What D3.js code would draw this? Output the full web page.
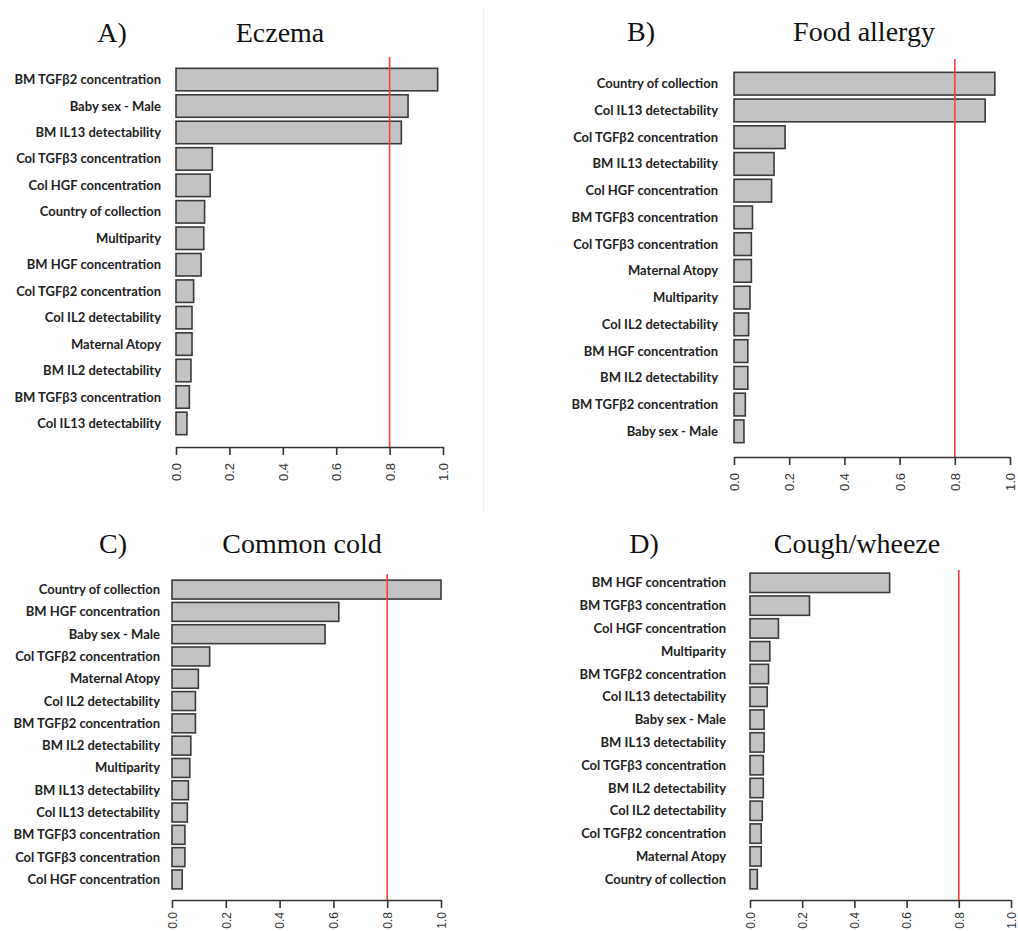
<!DOCTYPE html>
<html>
<head>
<meta charset="utf-8">
<script src="https://cdn.jsdelivr.net/npm/d3@7"></script>
<style>
  html, body { margin: 0; padding: 0; background: #fff; }
  svg { display: block; }
</style>
</head>
<body>
<svg id="chart" width="1018" height="931"></svg>
<script>
// ---------- DATA ----------
const tickValues = [0, 0.2, 0.4, 0.6, 0.8, 1.0];
const threshold = 0.8;

const eczemaLabels = ["BM TGFβ2 concentration", "Baby sex - Male", "BM IL13 detectability", "Col TGFβ3 concentration", "Col HGF concentration", "Country of collection", "Multiparity", "BM HGF concentration", "Col TGFβ2 concentration", "Col IL2 detectability", "Maternal Atopy", "BM IL2 detectability", "BM TGFβ3 concentration", "Col IL13 detectability"];
const eczemaValues = [0.98, 0.869, 0.844, 0.136, 0.128, 0.107, 0.104, 0.094, 0.066, 0.060, 0.060, 0.056, 0.050, 0.041];

const foodLabels = ["Country of collection", "Col IL13 detectability", "Col TGFβ2 concentration", "BM IL13 detectability", "Col HGF concentration", "BM TGFβ3 concentration", "Col TGFβ3 concentration", "Maternal Atopy", "Multiparity", "Col IL2 detectability", "BM HGF concentration", "BM IL2 detectability", "BM TGFβ2 concentration", "Baby sex - Male"];
const foodValues = [0.945, 0.91, 0.185, 0.145, 0.136, 0.067, 0.063, 0.063, 0.058, 0.053, 0.050, 0.050, 0.041, 0.036];

const coldLabels = ["Country of collection", "BM HGF concentration", "Baby sex - Male", "Col TGFβ2 concentration", "Maternal Atopy", "Col IL2 detectability", "BM TGFβ2 concentration", "BM IL2 detectability", "Multiparity", "BM IL13 detectability", "Col IL13 detectability", "BM TGFβ3 concentration", "Col TGFβ3 concentration", "Col HGF concentration"];
const coldValues = [1.0, 0.62, 0.569, 0.14, 0.098, 0.087, 0.087, 0.07, 0.066, 0.061, 0.057, 0.048, 0.048, 0.038];

const coughLabels = ["BM HGF concentration", "BM TGFβ3 concentration", "Col HGF concentration", "Multiparity", "BM TGFβ2 concentration", "Col IL13 detectability", "Baby sex - Male", "BM IL13 detectability", "Col TGFβ3 concentration", "BM IL2 detectability", "Col IL2 detectability", "Col TGFβ2 concentration", "Maternal Atopy", "Country of collection"];
const coughValues = [0.535, 0.228, 0.109, 0.076, 0.071, 0.066, 0.054, 0.054, 0.051, 0.051, 0.047, 0.043, 0.043, 0.028];

const panelLetters = ["A)", "B)", "C)", "D)"];
const panelTitles = ["Eczema", "Food allergy", "Common cold", "Cough/wheeze"];

// ---------- LAYOUT ----------
const layouts = [
  { x0: 176, x1: 443,    axisY: 447, redTop: 57,  bandTop: 67,  bandBottom: 436, labelX: 161, letterX: 112, titleX: 280, titleY: 42,  tickOff: 16, tickFont: 13 },
  { x0: 734, x1: 1010,   axisY: 457, redTop: 59,  bandTop: 71,  bandBottom: 444, labelX: 718, letterX: 641, titleX: 864, titleY: 41,  tickOff: 16, tickFont: 13 },
  { x0: 172, x1: 441,    axisY: 900, redTop: 574, bandTop: 579, bandBottom: 890, labelX: 160, letterX: 113, titleX: 302, titleY: 553, tickOff: 12, tickFont: 12 },
  { x0: 750, x1: 1011,   axisY: 900, redTop: 570, bandTop: 572, bandBottom: 890, labelX: 726, letterX: 644, titleX: 857, titleY: 553, tickOff: 12, tickFont: 12 }
];

const panels = [
  { labels: eczemaLabels, values: eczemaValues },
  { labels: foodLabels, values: foodValues },
  { labels: coldLabels, values: coldValues },
  { labels: coughLabels, values: coughValues }
];

const svg = d3.select("#chart");

// faint divider seen in reference
svg.append("line").attr("x1", 483.5).attr("x2", 483.5).attr("y1", 10).attr("y2", 512)
  .attr("stroke", "#eeeeee").attr("stroke-width", 1);

panels.forEach((p, i) => {
  const L = layouts[i];
  const g = svg.append("g");

  const x = d3.scaleLinear().domain([0, 1]).range([L.x0, L.x1]);
  const y = d3.scaleBand().domain(p.labels).range([L.bandTop, L.bandBottom])
    .paddingInner(0.15).paddingOuter(0.05);

  // titles
  g.append("text").attr("x", L.letterX).attr("y", L.titleY)
    .attr("text-anchor", "middle")
    .style("font-family", "'Liberation Serif', 'Times New Roman', serif")
    .style("font-size", "28px").attr("fill", "#111").text(panelLetters[i]);
  g.append("text").attr("x", L.titleX).attr("y", L.titleY)
    .attr("text-anchor", "middle")
    .style("font-family", "'Liberation Serif', 'Times New Roman', serif")
    .style("font-size", "28px").attr("fill", "#111").text(panelTitles[i]);

  // bars
  const data = p.labels.map((l, k) => ({ label: l, value: p.values[k] }));
  g.selectAll("rect.bar").data(data).enter().append("rect")
    .attr("class", "bar")
    .attr("x", x(0))
    .attr("y", d => y(d.label))
    .attr("width", d => x(d.value) - x(0))
    .attr("height", y.bandwidth())
    .attr("fill", "#c3c3c3")
    .attr("stroke", "#3a3a3a")
    .attr("stroke-width", 1.6);

  // category labels
  g.selectAll("text.cat").data(data).enter().append("text")
    .attr("class", "cat")
    .attr("x", L.labelX)
    .attr("y", d => y(d.label) + y.bandwidth() / 2)
    .attr("dy", "0.35em")
    .attr("text-anchor", "end")
    .style("font-family", "Lato, 'Open Sans', sans-serif")
    .style("font-weight", "bold")
    .style("font-size", "13px")
    .attr("fill", "#222")
    .text(d => d.label);

  // red threshold line
  g.append("line")
    .attr("x1", x(threshold)).attr("x2", x(threshold))
    .attr("y1", L.redTop).attr("y2", L.axisY)
    .attr("stroke", "#ff3b3b").attr("stroke-width", 1.6);

  // x axis
  const axis = d3.axisBottom(x).tickValues(tickValues).tickFormat(d3.format(".1f"))
    .tickSizeOuter(0).tickSizeInner(8).tickPadding(6);
  const ag = g.append("g").attr("transform", `translate(0,${L.axisY})`).call(axis);
  ag.select(".domain").attr("stroke", "#333").attr("stroke-width", 1.6);
  ag.selectAll(".tick line").attr("stroke", "#333").attr("stroke-width", 1.6);
  ag.selectAll(".tick text")
    .attr("transform", "rotate(-90)")
    .attr("x", -L.tickOff).attr("y", 0).attr("dy", "0.35em")
    .attr("text-anchor", "end")
    .style("font-family", "'Liberation Sans', Arial, sans-serif")
    .style("font-size", L.tickFont + "px")
    .attr("fill", "#333");
});
</script>
</body>
</html>
